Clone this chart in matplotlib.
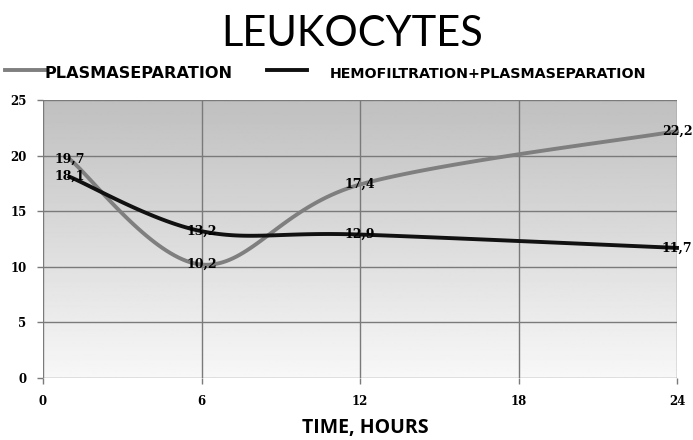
import numpy as np
import matplotlib
matplotlib.use("Agg")
import matplotlib.pyplot as plt
from matplotlib.lines import Line2D

# data
hours = [1, 6, 12, 24]
plasma = [19.7, 10.2, 17.4, 22.2]
hemo_plasma = [18.1, 13.2, 12.9, 11.7]
xticks = [0, 6, 12, 18, 24]
yticks = [0, 5, 10, 15, 20, 25]


def smooth(xs, ys, n=40):
    # excel-like smoothed line (bezier through the points)
    p = np.column_stack([xs, ys]).astype(float)
    p = np.vstack([p[0], p, p[-1]])
    out = []
    t = np.linspace(0, 1, n)[:, None]
    for i in range(1, len(p) - 2):
        a, b = p[i], p[i + 1]
        c1 = a + (p[i + 1] - p[i - 1]) / 6.0
        c2 = b - (p[i + 2] - p[i]) / 6.0
        seg = (1 - t)**3 * a + 3 * (1 - t)**2 * t * c1 + 3 * (1 - t) * t**2 * c2 + t**3 * b
        out.append(seg)
    out = np.vstack(out)
    return out[:, 0], out[:, 1]


fig = plt.figure(figsize=(6.93, 4.40), dpi=100)
ax = fig.add_axes([43/693, 1 - 378/440, 634/693, 278/440])

# gray gradient background
grad = np.linspace(0.97, 0.75, 256)[:, None]
ax.imshow(grad, cmap='gray', vmin=0, vmax=1, aspect='auto',
          extent=[0, 24, 0, 25], origin='lower', zorder=0)

ax.set_xlim(0, 24)
ax.set_ylim(0, 25)
ax.set_xticks(xticks)
ax.set_yticks(yticks)
ax.grid(True, color='#7a7a7a', linewidth=1.0, zorder=1)
for s in ax.spines.values():
    s.set_visible(False)
ax.tick_params(length=4, width=1, color='#7a7a7a', pad=8)
for lab in ax.get_xticklabels() + ax.get_yticklabels():
    lab.set_fontfamily('DejaVu Serif')
    lab.set_fontweight('bold')
    lab.set_fontsize(8.5)

sx, sy = smooth(hours, plasma)
ax.plot(sx, sy, color='#7f7f7f', linewidth=2.8, zorder=3, clip_on=False)
sx, sy = smooth(hours, hemo_plasma)
ax.plot(sx, sy, color='#111111', linewidth=2.8, zorder=4, clip_on=False)

for x, y in zip(hours, plasma):
    ax.text(x, y, f"{y:.1f}".replace('.', ','), ha='center', va='center',
            fontsize=9, fontweight='bold', family='DejaVu Serif', zorder=5, clip_on=False)
for x, y in zip(hours, hemo_plasma):
    ax.text(x, y, f"{y:.1f}".replace('.', ','), ha='center', va='center',
            fontsize=9, fontweight='bold', family='DejaVu Serif', zorder=5, clip_on=False)

fig.text(352/693, 1 - 34/440, 'LEUKOCYTES', ha='center', va='center',
         fontsize=30, family='Lato')

# legend
fig.add_artist(Line2D([5/693, 45/693], [1 - 70/440] * 2, color='#7f7f7f', linewidth=2.8))
fig.text(44/693, 1 - 74/440, 'PLASMASEPARATION', ha='left', va='center',
         fontsize=11.6, fontweight='bold', family='DejaVu Sans')
fig.add_artist(Line2D([267/693, 307/693], [1 - 70/440] * 2, color='#111111', linewidth=2.8))
fig.text(330/693, 1 - 74/440, 'HEMOFILTRATION+PLASMASEPARATION', ha='left', va='center',
         fontsize=10.3, fontweight='bold', family='DejaVu Sans')

fig.text(365/693, 1 - 428/440, 'TIME, HOURS', ha='center', va='center',
         fontsize=14, fontweight='bold', family='Open Sans')

fig.savefig('out.png', dpi=100, facecolor='white')
